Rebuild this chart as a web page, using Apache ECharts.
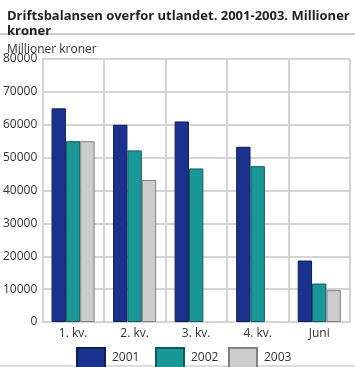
<!DOCTYPE html>
<html><head><meta charset="utf-8">
<script src="https://cdn.jsdelivr.net/npm/echarts@6/dist/echarts.min.js"></script>
<style>html,body{margin:0;padding:0;background:#fff}#c{width:355px;height:367px}</style>
</head><body><div id="c"></div>
<script>
var categories = ['1. kv.', '2. kv.', '3. kv.', '4. kv.', 'Juni'];
var years = ['2001', '2002', '2003'];
var s2001 = [65000, 60000, 61000, 53300, 18700];
var s2002 = [55000, 52200, 46700, 47400, 11700];
var s2003 = [55000, 43200, null, null, 9700];
var yTicks = [0, 10000, 20000, 30000, 40000, 50000, 60000, 70000, 80000];

var colors = ['#1b318e', '#1a9898', '#cccccc'];
var borders = ['#0f1f5c', '#0e5c5c', '#808080'];
var ff = '"Open Sans", sans-serif';
var chart = echarts.init(document.getElementById('c'));
var data = [s2001, s2002, s2003];
chart.setOption({
  animation: false,
  textStyle: {fontFamily: ff},
  title: [
    {text: 'Driftsbalansen overfor utlandet. 2001-2003. Millioner\nkroner', left: 2, top: 4,
     textStyle: {fontSize: 13, fontWeight: 'bold', color: '#222', lineHeight: 15, fontFamily: ff}},
    {text: 'Millioner kroner', left: 2, top: 39,
     textStyle: {fontSize: 12, fontWeight: 'normal', color: '#333', fontFamily: ff}}
  ],
  legend: years.map(function (y, i) {
    return {data: [y], left: [71, 150, 223][i], top: 342, itemWidth: 28, itemHeight: 20, itemGap: 0,
      textStyle: {fontSize: 12, color: '#333', fontFamily: ff, padding: [6, 0, 0, 2]},
      icon: 'rect', selectedMode: false};
  }),
  grid: {left: 41, right: 5, top: 59, bottom: 45},
  xAxis: {type: 'category', data: categories,
    axisLine: {show: true, lineStyle: {color: '#d4d4d4', width: 2}},
    axisTick: {show: false},
    axisLabel: {fontSize: 12, color: '#333', margin: 6, fontFamily: ff},
    splitLine: {show: true, lineStyle: {color: '#d4d4d4', width: 2}}},
  yAxis: {type: 'value', min: 0, max: 80000, interval: 10000,
    axisLine: {show: true, lineStyle: {color: '#d4d4d4', width: 2}},
    axisTick: {show: false},
    axisLabel: {fontSize: 12, color: '#333', margin: 5, fontFamily: ff,
      formatter: function (v) { return yTicks.indexOf(v) >= 0 ? String(v) : ''; }},
    splitLine: {show: true, lineStyle: {color: '#d4d4d4', width: 2}}},
  graphic: [
    {type: 'line', shape: {x1: 0, y1: 34, x2: 355, y2: 34}, style: {stroke: '#999', lineWidth: 1}},
    {type: 'line', shape: {x1: 0, y1: 366, x2: 355, y2: 366}, style: {stroke: '#bbb', lineWidth: 1}},
    {type: 'line', shape: {x1: 350, y1: 59, x2: 350, y2: 322}, style: {stroke: '#d4d4d4', lineWidth: 2}}
  ],
  series: years.map(function (y, i) {
    return {name: y, type: 'bar', data: data[i], barGap: '0%', barCategoryGap: '30%',
      itemStyle: {color: colors[i], borderColor: borders[i], borderWidth: 1}};
  })
});
</script></body></html>
